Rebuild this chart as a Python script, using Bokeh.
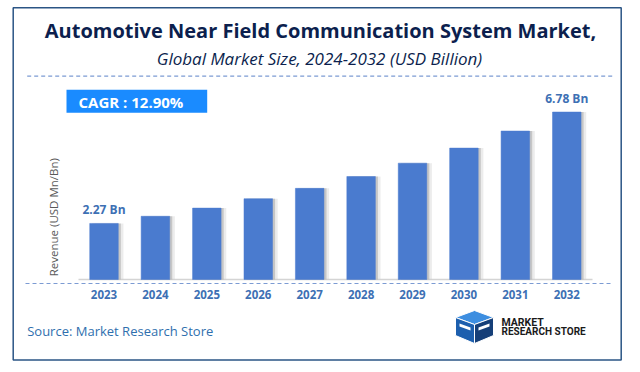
from bokeh.plotting import figure
from bokeh.models import ColumnDataSource, Range1d, Label
from bokeh.transform import dodge
from bokeh.core.properties import value
from bokeh.embed import file_html
from bokeh.resources import INLINE

# ---- data ----
years = ["2023", "2024", "2025", "2026", "2027", "2028", "2029", "2030", "2031", "2032"]
revenue = [2.27, 2.56, 2.89, 3.27, 3.69, 4.17, 4.71, 5.32, 6.01, 6.78]
label_years = ["2023", "2032"]
label_values = [2.27, 6.78]
label_texts = ["2.27 Bn", "6.78 Bn"]
title_text = "Automotive Near Field Communication System Market,"
subtitle_text = "Global Market Size, 2024-2032 (USD Billion)"
cagr_text = "CAGR :  12.90%"
y_title = "Revenue (USD Mn/Bn)"
source_text = "Source: Market Research Store"

BAR = "#4a7bcf"
NAVY = "#0c1f4e"
STEEL = "#3d70b4"

W, H = 640, 372
# layout of the plotting scale (pixels per unit, pixel of first year / baseline)
PX_PER_YEAR = 51.42
X_FIRST_PX = 103.5
PX_PER_BN = 24.7
BASE_PX = 279.0
x0 = int(years[0]) - X_FIRST_PX / PX_PER_YEAR


def X(px):
    return x0 + px / PX_PER_YEAR


def Y(py):
    return (BASE_PX - py) / PX_PER_BN


src = ColumnDataSource(dict(year=[int(y) for y in years], revenue=revenue))
lsrc = ColumnDataSource(dict(year=[int(y) for y in label_years], revenue=label_values,
                             text=label_texts))
ysrc = ColumnDataSource(dict(year=[int(y) for y in years], zero=[0] * len(years), text=years))

p = figure(width=W, height=H, x_range=Range1d(X(0), X(W)), y_range=Range1d(Y(H), Y(0)),
           output_backend="svg", toolbar_location=None,
           x_axis_location=None, y_axis_location=None,
           min_border=0, min_border_left=0, min_border_right=0,
           min_border_top=0, min_border_bottom=0)
p.background_fill_color = "white"
p.border_fill_color = "white"
p.outline_line_color = None
p.grid.grid_line_color = None

# outer frame
p.quad(left=[X(12.7)], right=[X(620.7)], top=[Y(7.3)], bottom=[Y(359.5)],
       fill_color=None, line_color="#2b5585", line_width=1.5)

# title & subtitle
p.add_layout(Label(x=X(320), y=Y(30), text=title_text, text_align="center",
                   text_baseline="middle", text_font="Open Sans", text_font_style="bold",
                   text_font_size="20px", text_color=NAVY))
p.add_layout(Label(x=X(319), y=Y(58), text=subtitle_text, text_align="center",
                   text_baseline="middle", text_font="Open Sans", text_font_style="italic",
                   text_font_size="17px", text_color=NAVY))

# dashed separators
p.line(x=[X(26.7), X(611.7)], y=[Y(75.7), Y(75.7)], line_color="#7c9bd3",
       line_dash="4 3", line_width=1.2)
p.line(x=[X(25), X(610)], y=[Y(283), Y(283)], line_color="#7c9bd3",
       line_dash="4 3", line_width=1.2)

# CAGR box
p.quad(left=[X(66)], right=[X(206.7)], top=[Y(89.3)], bottom=[Y(112.3)],
       fill_color="#1a8bff", line_color=None)
p.add_layout(Label(x=X(78), y=Y(101), text=cagr_text, text_align="left",
                   text_baseline="middle", text_font="Open Sans", text_font_style="bold",
                   text_font_size="15px", text_color="white"))

# baseline
p.line(x=[X(78), X(592)], y=[0, 0], line_color="#d4d4d4", line_width=1.5)

# bar shadows
p.vbar(x=dodge("year", 0.10), top="revenue", width=0.555, source=src,
       fill_color="#c8c8c8", fill_alpha=0.35, line_color=None)
p.vbar(x=dodge("year", 0.05), top="revenue", width=0.555, source=src,
       fill_color="#9a9a9a", fill_alpha=0.45, line_color=None)
# bars
p.vbar(x="year", top="revenue", width=0.555, source=src, fill_color=BAR, line_color=BAR,
       line_width=0.5)

# value labels
p.text(x="year", y="revenue", text="text", source=lsrc, text_align="center",
       text_baseline="bottom", y_offset=-5, text_font=value("Open Sans"),
       text_font_style="bold", text_font_size="12px", text_color=STEEL)

# year labels
p.text(x="year", y="zero", text="text", source=ysrc, text_align="center",
       text_baseline="middle", y_offset=15, text_font=value("Open Sans"),
       text_font_style="bold", text_font_size="11.5px", text_color=STEEL)

# y axis title
p.add_layout(Label(x=X(52.7), y=Y(216.7), text=y_title, angle=90, angle_units="deg",
                   text_align="center", text_baseline="middle", text_font="Open Sans",
                   text_font_size="11.5px", text_color="#595959"))

# source
p.add_layout(Label(x=X(26.7), y=Y(330), text=source_text, text_align="left",
                   text_baseline="middle", text_font="Open Sans", text_font_size="13px",
                   text_color="#2f6fae"))

# logo (stylised cube)
p.patch(x=[X(455), X(474), X(493), X(474)], y=[Y(317), Y(310), Y(317), Y(324)],
        fill_color="#3d8ee0", line_color="white", line_width=1)
p.patch(x=[X(455), X(474), X(474), X(455)], y=[Y(317), Y(324), Y(343), Y(335)],
        fill_color="#1d5fae", line_color="white", line_width=1)
p.patch(x=[X(474), X(493), X(493), X(474)], y=[Y(324), Y(317), Y(335), Y(343)],
        fill_color="#163f78", line_color="white", line_width=1)
p.patch(x=[X(478), X(489), X(489), X(478)], y=[Y(327), Y(323), Y(326), Y(330)],
        fill_color="white", line_color=None)
p.patch(x=[X(459), X(470), X(470), X(459)], y=[Y(323), Y(327), Y(330), Y(326)],
        fill_color="white", line_color=None)
p.add_layout(Label(x=X(501), y=Y(322), text="MARKET", text_align="left",
                   text_baseline="middle", text_font="Roboto", text_font_style="bold",
                   text_font_size="10.5px", text_color="#1a1a1a"))
p.add_layout(Label(x=X(501), y=Y(331), text="RESEARCH STORE", text_align="left",
                   text_baseline="middle", text_font="Roboto", text_font_style="bold",
                   text_font_size="10px", text_color="#1a1a1a"))

open("out.html", "w").write(file_html(p, INLINE))
